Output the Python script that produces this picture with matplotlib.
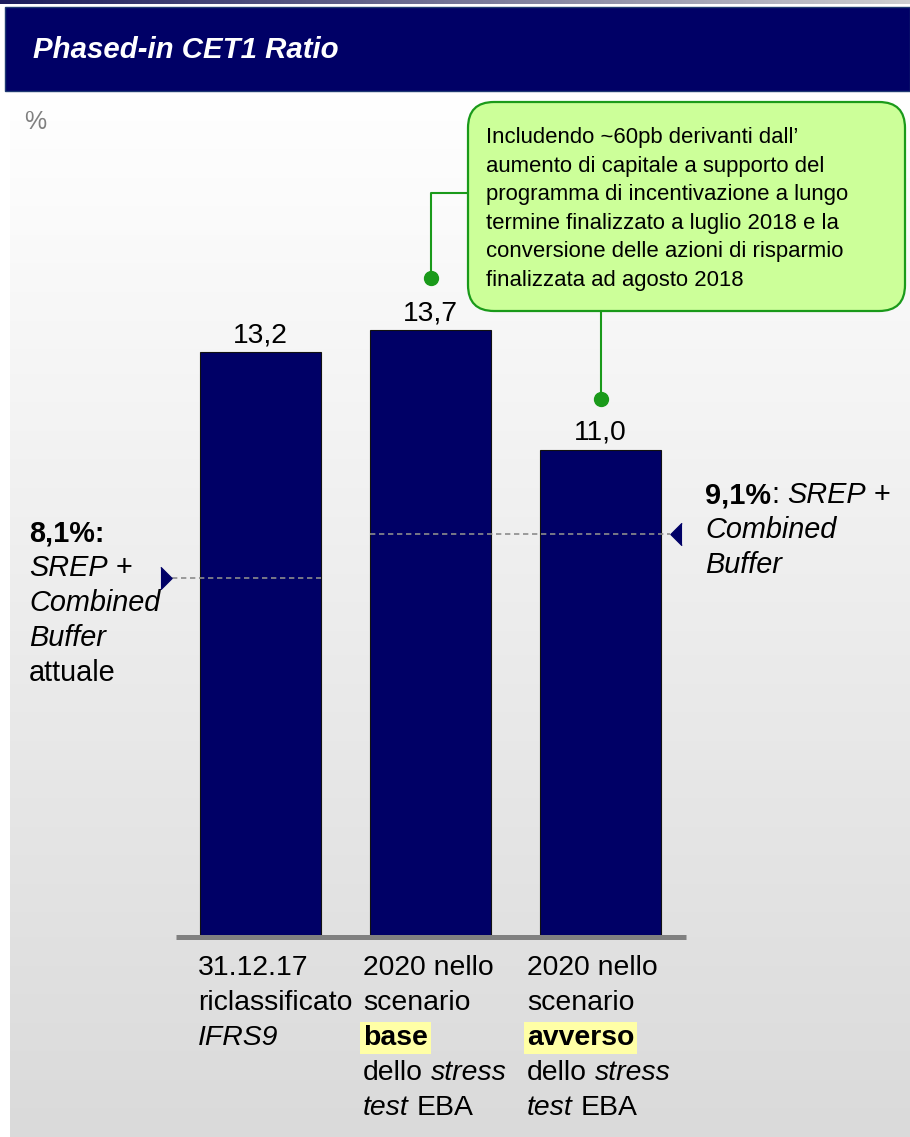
import matplotlib.pyplot as plt
import numpy as np
from matplotlib.patches import Rectangle, FancyBboxPatch

plt.rcParams['font.family'] = ['Liberation Sans', 'DejaVu Sans']

# %% data
categories = ['31.12.17', '2020 base', '2020 avverso']
cet1_values = [13.2, 13.7, 11.0]
value_labels = ['13,2', '13,7', '11,0']
srep_current = 8.1   # SREP + Combined Buffer attuale
srep_stress = 9.1    # SREP + Combined Buffer (stress test)

# category labels, one list of (text, style) pieces per line
cat_lines = [
    [[('31.12.17', 'n')], [('riclassificato', 'n')], [('IFRS9', 'i')]],
    [[('2020 nello', 'n')], [('scenario', 'n')], [('base', 'bh')],
     [('dello ', 'n'), ('stress', 'i')], [('test ', 'i'), ('EBA', 'n')]],
    [[('2020 nello', 'n')], [('scenario', 'n')], [('avverso', 'bh')],
     [('dello ', 'n'), ('stress', 'i')], [('test ', 'i'), ('EBA', 'n')]],
]
left_note = [[('8,1%:', 'b')], [('SREP', 'i'), (' +', 'n')], [('Combined', 'i')],
             [('Buffer', 'i')], [('attuale', 'n')]]
right_note = [[('9,1%', 'b'), (': ', 'n'), ('SREP', 'i'), (' +', 'n')],
              [('Combined', 'i')], [('Buffer', 'i')]]
callout_lines = ["Includendo ~60pb derivanti dall\u2019",
                 "aumento di capitale a supporto del",
                 "programma di incentivazione a lungo",
                 "termine finalizzato a luglio 2018 e la",
                 "conversione delle azioni di risparmio",
                 "finalizzata ad agosto 2018"]

NAVY = '#000066'
GREEN = '#1a9a1a'

# %% figure, background layer in pixel coords
W, H = 910, 1137
fig = plt.figure(figsize=(W / 100, H / 100), dpi=100)
bg = fig.add_axes([0, 0, 1, 1], zorder=0)
bg.set_xlim(0, W)
bg.set_ylim(H, 0)
bg.axis('off')

grad = np.linspace(1.0, 0.855, 256)[:, None] * np.ones((1, 2))
bg.imshow(np.dstack([grad] * 3), extent=(10, W, H, 92), aspect='auto', zorder=0)
top = np.linspace(0, 1, 256)[None, :]
top_rgb = np.dstack([0.11 + 0.7 * top, 0.11 + 0.7 * top, 0.36 + 0.46 * top])
bg.imshow(top_rgb, extent=(0, W, 4, 0), aspect='auto', zorder=0)
bg.add_patch(Rectangle((5, 7), W - 5, 84, facecolor=NAVY, edgecolor='#1f3a72', lw=1.0, zorder=1))
bg.text(33, 50, 'Phased-in CET1 Ratio', color='white', fontsize=21.2,
        fontweight='bold', fontstyle='italic', va='center', ha='left', zorder=2)
bg.text(24, 122, '%', color='#808080', fontsize=18, va='center', ha='left')

# %% main axes: bars
ax = fig.add_axes([0, 0, 1, 1], zorder=1)
ax.patch.set_alpha(0)
x0, dx = 260.5, 170.0      # pixel of first bar centre, pixel per category
base, dy = 937.0, 44.3     # pixel of zero line, pixel per percentage point
ax.set_xlim((0 - x0) / dx, (W - x0) / dx)
ax.set_ylim((base - H) / dy, base / dy)
ax.axis('off')

x = np.arange(len(categories))
ax.bar(x, cet1_values, width=0.712, color=NAVY, edgecolor='#111111', linewidth=0.8, zorder=2)
ax.plot([-0.5, 2.5], [0, 0], color='#808080', lw=3.6, solid_capstyle='butt', zorder=3)
for xi, v, lbl in zip(x, cet1_values, value_labels):
    ax.annotate(lbl, (xi, v), xytext=(0, 7.2), textcoords='offset points',
                ha='center', va='baseline', fontsize=20.3)

# requirement lines
ax.plot([-0.52, 0.356], [srep_current] * 2, ls=(0, (3.2, 2.2)), color='#8c8c8c', lw=1.2, zorder=3)
ax.plot([0.644, 2.41], [srep_stress] * 2, ls=(0, (3.2, 2.2)), color='#8c8c8c', lw=1.2, zorder=3)
ax.plot(-0.553, srep_current, marker=[(-0.5, 1), (0.5, 0), (-0.5, -1)], ms=16,
        color=NAVY, mec=NAVY, zorder=4)
ax.plot(2.444, srep_stress, marker=[(0.5, 1), (-0.5, 0), (0.5, -1)], ms=16,
        color=NAVY, mec=NAVY, zorder=4)


def to_px(xd, yd):
    dxp, dyp = ax.transData.transform((xd, yd))
    return dxp, H - dyp


# %% callout box with connectors
bx, by, bw, bh = 468, 102, 437, 209
bg.add_patch(FancyBboxPatch((bx, by), bw, bh, boxstyle='round,pad=0,rounding_size=26',
                            facecolor='#ccff99', edgecolor=GREEN, lw=1.6, zorder=3))
for i, line in enumerate(callout_lines):
    bg.text(486, 143 + i * 28.6, line, fontsize=15.9, va='baseline', ha='left', zorder=4)

d1x, d1y = to_px(1, cet1_values[1] + 1.18)
d2x, d2y = to_px(2, cet1_values[2] + 1.14)
bg.plot([bx, d1x, d1x], [193, 193, d1y], color=GREEN, lw=1.5, zorder=2)
bg.plot([d2x, d2x], [by + bh, d2y], color=GREEN, lw=1.5, zorder=2)
bg.plot([d1x, d2x], [d1y, d2y], ls='none', marker='o', ms=10, color=GREEN, zorder=4)

# %% mixed-style text
renderer = fig.canvas.get_renderer()


def rich_line(xp, yp, pieces, size):
    space = 0.278 * size * 100 / 72
    for txt, st in pieces:
        core = txt.strip()
        xp += space * (len(txt) - len(txt.lstrip()))
        kw = dict(fontsize=size, va='baseline', ha='left', color='black', zorder=6)
        if 'b' in st:
            kw['fontweight'] = 'bold'
        if 'i' in st:
            kw['fontstyle'] = 'italic'
        if 'h' in st:
            kw['bbox'] = dict(boxstyle='square,pad=0.1', fc='#ffffa6', ec='none')
        t = bg.text(xp, yp, core, **kw)
        xp += t.get_window_extent(renderer=renderer).width
        xp += space * (len(txt) - len(txt.rstrip()))


cat_x = [198, 363, 527]
for cx, lines in zip(cat_x, cat_lines):
    for j, pieces in enumerate(lines):
        rich_line(cx, 975 + j * 35, pieces, 20.4)

for j, pieces in enumerate(left_note):
    rich_line(29, 541 + j * 35, pieces, 20.8)
for j, pieces in enumerate(right_note):
    rich_line(705, 503 + j * 35, pieces, 20.8)

fig.savefig('out.png', dpi=100)
